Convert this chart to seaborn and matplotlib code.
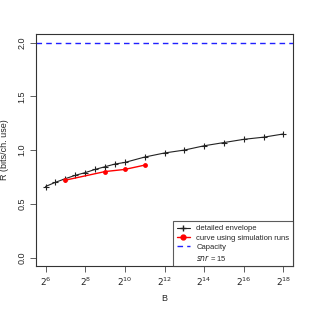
import matplotlib
matplotlib.use("Agg")
import matplotlib.pyplot as plt
import seaborn as sns
import numpy as np
from matplotlib.lines import Line2D

# data: x is log2(B)
env_log2B = [6, 6.5, 7, 7.5, 8, 8.5, 9, 9.5, 10, 11, 12, 13, 14, 15, 16, 17, 18]
env_R = [0.661, 0.70, 0.734, 0.765, 0.79, 0.82, 0.845, 0.87, 0.885, 0.935, 0.973, 1.0, 1.04, 1.07, 1.10, 1.12, 1.15]
sim_log2B = [7, 9, 10, 11]
sim_R = [0.72, 0.80, 0.82, 0.86]
capacity = 2.0
xtick_exp = [6, 8, 10, 12, 14, 16, 18]
ytick_vals = [0.0, 0.5, 1.0, 1.5, 2.0]

sns.set_style("ticks")
plt.rcParams['font.family'] = ['Liberation Sans', 'DejaVu Sans']
fs = 6.5

fig = plt.figure(figsize=(3.12, 3.12), dpi=100)
ax = fig.add_axes([0.1154, 0.147, 0.8237, 0.744])

sns.lineplot(x=env_log2B, y=env_R, ax=ax, color='#222222', marker='+', markersize=5,
             markeredgewidth=0.8, linewidth=0.8, markeredgecolor='#222222')
sns.lineplot(x=sim_log2B, y=sim_R, ax=ax, color='red', marker='o', markersize=3.5,
             markeredgewidth=0, linewidth=1.0)
ax.axhline(capacity, color='#2020ff', linestyle=(0, (4, 3)), linewidth=1.0)

ax.set_xlim(5.52, 18.48)
ax.set_ylim(-0.08, 2.08)
ax.set_xticks(xtick_exp)
ax.set_xticklabels([f"$2^{{{e}}}$" for e in xtick_exp], fontsize=fs)
ax.set_yticks(ytick_vals)
ax.set_yticklabels([f"{v:.1f}" for v in ytick_vals], fontsize=fs, rotation=90, va='center')
ax.tick_params(axis='both', length=4, width=0.6, color='#444444', pad=3)
for s in ax.spines.values():
    s.set_visible(True)
    s.set_linewidth(0.8)
    s.set_color('#333333')
ax.set_xlabel("B", fontsize=fs, labelpad=4)
ax.set_ylabel("R (bits/ch. use)", fontsize=fs, labelpad=6)

handles = [
    Line2D([], [], color='#222222', marker='+', markersize=5, linewidth=0.8),
    Line2D([], [], color='red', marker='o', markersize=3.5, linewidth=1.0),
    Line2D([], [], color='#2020ff', linestyle=(0, (4, 3)), linewidth=1.0),
    Line2D([], [], color='none'),
]
labels = ["detailed envelope", "curve using simulation runs", "Capacity", "$snr$ = 15"]
leg = ax.legend(handles, labels, loc='lower right', fontsize=5.5, frameon=True,
                fancybox=False, borderaxespad=0, handlelength=1.7, handletextpad=0.9,
                labelspacing=0.25, borderpad=0.45)
leg.get_frame().set_edgecolor('#333333')
leg.get_frame().set_linewidth(0.8)

fig.savefig("out.png", dpi=100)
